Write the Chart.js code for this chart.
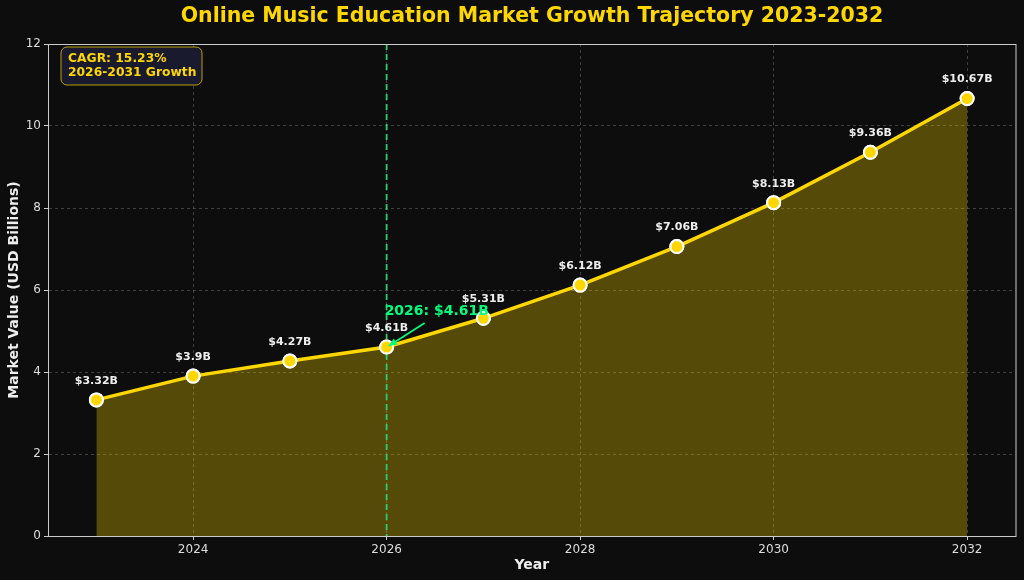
<!DOCTYPE html>
<html><head><meta charset="utf-8">
<script src="https://cdn.jsdelivr.net/npm/chart.js@4.4.1/dist/chart.umd.min.js"></script>
<style>html,body{margin:0;padding:0;background:#0d0d0d;}#wrap{width:1024px;height:580px;}</style>
</head><body><div id="wrap"><canvas id="c" width="1024" height="580"></canvas></div>
<script>
const years = [2023, 2024, 2025, 2026, 2027, 2028, 2029, 2030, 2031, 2032];
const values = [3.32, 3.9, 4.27, 4.61, 5.31, 6.12, 7.06, 8.13, 9.36, 10.67];
const xTicks = [2024, 2026, 2028, 2030, 2032];
const yTicks = [0, 2, 4, 6, 8, 10, 12];
const titleText = 'Online Music Education Market Growth Trajectory 2023-2032';
const xTitle = 'Year';
const yTitle = 'Market Value (USD Billions)';
const highlightYear = 2026;
const highlightValue = 4.61;
const cagrLines = ['CAGR: 15.23%', '2026-2031 Growth'];

const FONT = "'DejaVu Sans', sans-serif";
const GOLD = '#ffd700';
const GREEN = '#00ff7f';

const overlay = {
  id: 'overlay',
  beforeDraw(chart) {
    const ctx = chart.ctx;
    ctx.save();
    ctx.fillStyle = '#0d0d0d';
    ctx.fillRect(0, 0, chart.width, chart.height);
    ctx.restore();
  },
  afterDatasetsDraw(chart) {
    const ctx = chart.ctx, a = chart.chartArea;
    const xs = chart.scales.x, ys = chart.scales.y;
    ctx.save();
    const hx = xs.getPixelForValue(highlightYear);
    ctx.strokeStyle = '#2ecc71';
    ctx.lineWidth = 1.8;
    ctx.setLineDash([6, 4]);
    ctx.beginPath(); ctx.moveTo(hx, a.top); ctx.lineTo(hx, a.bottom); ctx.stroke();
    ctx.setLineDash([]);
    const meta = chart.getDatasetMeta(0);
    meta.data.forEach(p => {
      ctx.beginPath(); ctx.arc(p.x, p.y, 6.5, 0, Math.PI * 2);
      ctx.fillStyle = GOLD; ctx.fill();
      ctx.lineWidth = 2; ctx.strokeStyle = '#ffffff'; ctx.stroke();
    });
    ctx.font = 'bold 11px ' + FONT;
    ctx.fillStyle = '#eeeeee';
    ctx.textAlign = 'center'; ctx.textBaseline = 'middle';
    meta.data.forEach((p, i) => {
      ctx.fillText('$' + values[i] + 'B', p.x, p.y - 19);
    });
    const px = xs.getPixelForValue(highlightYear), py = ys.getPixelForValue(highlightValue);
    ctx.font = 'bold 14px ' + FONT;
    ctx.fillStyle = GREEN;
    ctx.textAlign = 'left'; ctx.textBaseline = 'middle';
    ctx.fillText('2026: $' + highlightValue + 'B', px - 2, py - 36);
    const sx = px + 38, sy = py - 24, ex = px + 2, ey = py - 1;
    ctx.strokeStyle = GREEN; ctx.lineWidth = 1.6;
    ctx.beginPath(); ctx.moveTo(sx, sy); ctx.lineTo(ex, ey); ctx.stroke();
    const ang = Math.atan2(ey - sy, ex - sx);
    ctx.beginPath();
    ctx.moveTo(ex, ey);
    ctx.lineTo(ex - 9 * Math.cos(ang - 0.4), ey - 9 * Math.sin(ang - 0.4));
    ctx.lineTo(ex - 9 * Math.cos(ang + 0.4), ey - 9 * Math.sin(ang + 0.4));
    ctx.closePath(); ctx.fillStyle = GREEN; ctx.fill();
    ctx.restore();
  },
  afterDraw(chart) {
    const ctx = chart.ctx, a = chart.chartArea;
    ctx.save();
    ctx.strokeStyle = '#cccccc'; ctx.lineWidth = 1;
    ctx.strokeRect(a.left + 0.5, a.top + 0.5, a.right - a.left, a.bottom - a.top);
    ctx.font = 'bold 20.5px ' + FONT;
    ctx.fillStyle = GOLD; ctx.textAlign = 'center'; ctx.textBaseline = 'middle';
    ctx.fillText(titleText, 532, 17);
    ctx.font = 'bold 14px ' + FONT;
    ctx.fillStyle = '#eeeeee';
    ctx.fillText(xTitle, (a.left + a.right) / 2, 565);
    ctx.save();
    ctx.translate(14, (a.top + a.bottom) / 2);
    ctx.rotate(-Math.PI / 2);
    ctx.fillText(yTitle, 0, 0);
    ctx.restore();
    const bx = a.left + 13, by = a.top + 3, bw = 141, bh = 38;
    ctx.beginPath();
    ctx.roundRect(bx, by, bw, bh, 6);
    ctx.fillStyle = '#1a1a2e'; ctx.fill();
    ctx.strokeStyle = 'rgba(255,215,0,0.7)'; ctx.lineWidth = 1; ctx.stroke();
    ctx.font = 'bold 12.3px ' + FONT;
    ctx.fillStyle = GOLD; ctx.textAlign = 'left'; ctx.textBaseline = 'middle';
    ctx.fillText(cagrLines[0], bx + 7, by + 12);
    ctx.fillText(cagrLines[1], bx + 7, by + 26);
    ctx.restore();
  }
};

new Chart(document.getElementById('c'), {
  type: 'line',
  data: {
    datasets: [{
      data: years.map((y, i) => ({ x: y, y: values[i] })),
      borderColor: GOLD,
      borderWidth: 3.5,
      backgroundColor: 'rgba(255,215,0,0.3)',
      fill: 'origin',
      tension: 0,
      pointRadius: 6.5,
      pointBackgroundColor: GOLD,
      pointBorderColor: '#ffffff',
      pointBorderWidth: 2
    }]
  },
  options: {
    responsive: false,
    animation: false,
    devicePixelRatio: 1,
    layout: { padding: { top: 44, right: 6, left: 0, bottom: 0 } },
    plugins: { legend: { display: false }, tooltip: { enabled: false }, title: { display: false } },
    scales: {
      x: {
        type: 'linear', min: 2022.5, max: 2032.5,
        afterFit(s) { s.height = 44; },
        afterBuildTicks(s) { s.ticks = xTicks.map(v => ({ value: v })); },
        ticks: { color: '#dddddd', font: { family: FONT, size: 12 }, padding: 3, callback: v => String(v) },
        grid: { color: 'rgba(140,140,140,0.4)', tickColor: '#cccccc', tickLength: 4, tickBorderDash: [] },
        border: { color: '#cccccc', dash: [3, 3] }
      },
      y: {
        min: 0, max: 12,
        afterFit(s) { s.width = 48; },
        afterBuildTicks(s) { s.ticks = yTicks.map(v => ({ value: v })); },
        ticks: { color: '#dddddd', font: { family: FONT, size: 12 }, padding: 3 },
        grid: { color: 'rgba(140,140,140,0.4)', tickColor: '#cccccc', tickLength: 4, tickBorderDash: [] },
        border: { color: '#cccccc', dash: [3, 3] }
      }
    }
  },
  plugins: [overlay]
});
</script></body></html>
